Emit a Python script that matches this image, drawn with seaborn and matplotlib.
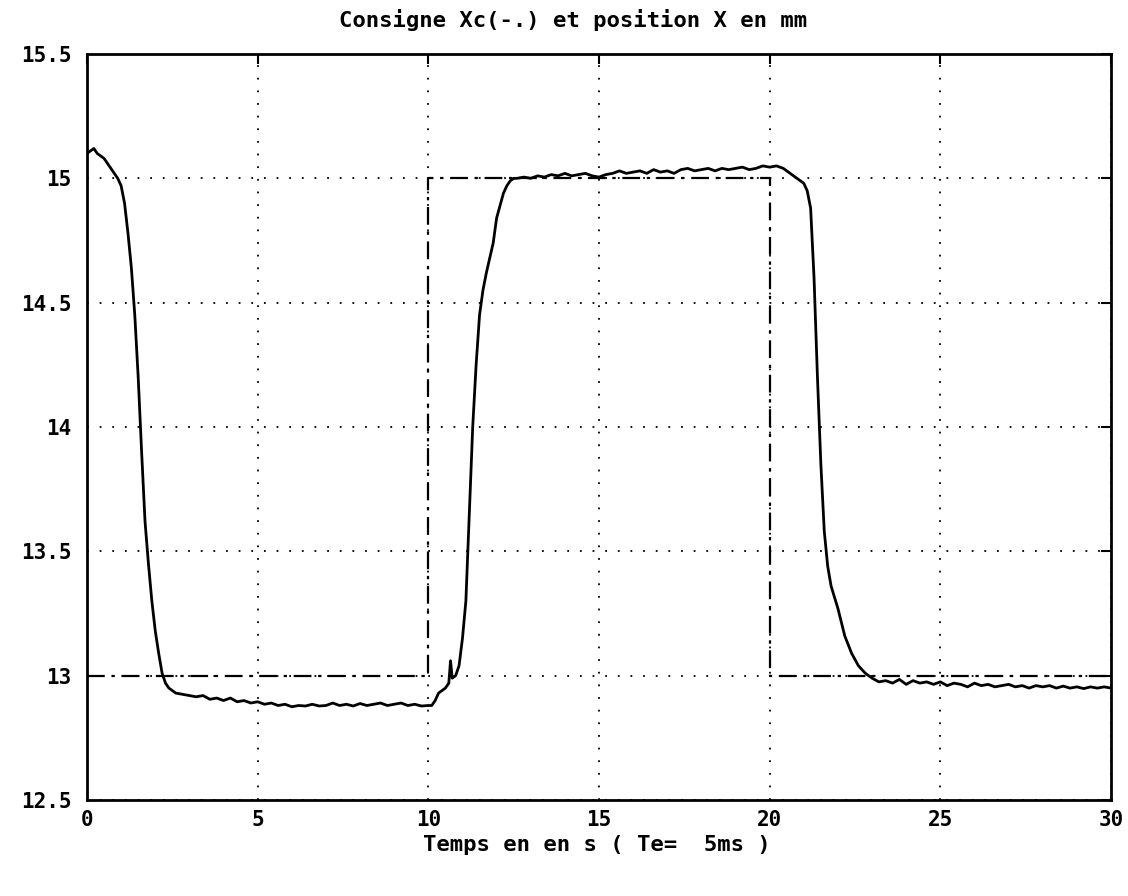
import numpy as np
import pandas as pd
import matplotlib
matplotlib.use("Agg")
import matplotlib.pyplot as plt
import seaborn as sns

# consigne Xc (step setpoint)
t_consigne = [0, 10, 10, 20, 20, 30]
x_consigne = [13, 13, 15, 15, 13, 13]

t_pos = [0.0, 0.1, 0.2, 0.3, 0.4, 0.5, 0.6, 0.7, 0.8, 0.9, 1.0, 1.1, 1.2, 1.3, 1.4,
         1.5, 1.6, 1.7, 1.8, 1.9, 2.0, 2.1, 2.2, 2.3, 2.4,
         2.6, 2.8, 3.0, 3.2, 3.4, 3.6, 3.8, 4.0, 4.2, 4.4, 4.6, 4.8, 5.0, 5.2, 5.4,
         5.6, 5.8, 6.0, 6.2, 6.4, 6.6, 6.8, 7.0, 7.2, 7.4, 7.6, 7.8, 8.0, 8.2, 8.4,
         8.6, 8.8, 9.0, 9.2, 9.4, 9.6, 9.8, 10.0,
         10.1, 10.2, 10.3, 10.4, 10.5, 10.6, 10.65, 10.7, 10.8, 10.9, 11.0, 11.1,
         11.2, 11.3, 11.4, 11.5, 11.6, 11.7, 11.8, 11.9, 12.0, 12.1, 12.2, 12.3,
         12.4, 12.5,
         12.6, 12.8, 13.0, 13.2, 13.4, 13.6, 13.8, 14.0, 14.2, 14.4, 14.6, 14.8,
         15.0, 15.2, 15.4, 15.6, 15.8, 16.0, 16.2, 16.4, 16.6, 16.8, 17.0, 17.2,
         17.4, 17.6, 17.8, 18.0, 18.2, 18.4, 18.6, 18.8, 19.0, 19.2, 19.4, 19.6,
         19.8, 20.0, 20.2, 20.4, 20.6, 20.8, 21.0,
         21.1, 21.2, 21.3, 21.4, 21.5, 21.6, 21.7, 21.8, 22.0, 22.2, 22.4, 22.6,
         22.8, 23.0, 23.2,
         23.4, 23.6, 23.8, 24.0, 24.2, 24.4, 24.6, 24.8, 25.0, 25.2, 25.4, 25.6,
         25.8, 26.0, 26.2, 26.4, 26.6, 26.8, 27.0, 27.2, 27.4, 27.6, 27.8, 28.0,
         28.2, 28.4, 28.6, 28.8, 29.0, 29.2, 29.4, 29.6, 29.8, 30.0]
x_pos = [15.10, 15.11, 15.12, 15.10, 15.09, 15.08, 15.06, 15.04, 15.02, 15.00,
         14.97, 14.90, 14.78, 14.64, 14.45,
         14.20, 13.90, 13.62, 13.45, 13.30, 13.18, 13.09, 13.01, 12.97, 12.95,
         12.93, 12.925, 12.92, 12.915, 12.92, 12.905, 12.91, 12.90, 12.91, 12.895,
         12.90, 12.89, 12.895, 12.885, 12.89,
         12.88, 12.885, 12.875, 12.88, 12.878, 12.885, 12.878, 12.88, 12.89, 12.88,
         12.885, 12.878, 12.888, 12.88, 12.885,
         12.89, 12.88, 12.885, 12.89, 12.88, 12.885, 12.878, 12.88,
         12.88, 12.90, 12.93, 12.94, 12.95, 12.97, 13.06, 12.99, 13.00, 13.04,
         13.15, 13.30,
         13.65, 14.00, 14.25, 14.45, 14.55, 14.62, 14.68, 14.74, 14.84, 14.89,
         14.94, 14.97,
         14.99, 15.00,
         15.00, 15.005, 15.00, 15.01, 15.005, 15.015, 15.01, 15.02, 15.01, 15.015,
         15.02, 15.01,
         15.005, 15.015, 15.02, 15.03, 15.02, 15.025, 15.03, 15.02, 15.035, 15.025,
         15.03, 15.02,
         15.035, 15.04, 15.03, 15.035, 15.04, 15.03, 15.04, 15.035, 15.04, 15.045,
         15.035, 15.04,
         15.05, 15.045, 15.05, 15.04, 15.02, 15.00, 14.98,
         14.95, 14.88, 14.60, 14.20, 13.85, 13.58, 13.44, 13.36, 13.27, 13.16,
         13.09, 13.04,
         13.01, 12.99, 12.975,
         12.98, 12.97, 12.985, 12.965, 12.98, 12.97, 12.975, 12.965, 12.975, 12.96,
         12.97, 12.965,
         12.955, 12.97, 12.96, 12.965, 12.955, 12.96, 12.965, 12.955, 12.96, 12.95,
         12.96, 12.955,
         12.96, 12.95, 12.958, 12.95, 12.955, 12.948, 12.955, 12.95, 12.955, 12.95]

df_c = pd.DataFrame({"t": t_consigne, "x": x_consigne})
df_p = pd.DataFrame({"t": t_pos, "x": x_pos})

sns.set_style("white")
plt.rcParams["font.family"] = ["DejaVu Sans Mono", "DejaVu Sans"]
plt.rcParams["font.weight"] = "bold"
plt.rcParams["text.color"] = "black"

fig = plt.figure(figsize=(11.28, 8.96), dpi=100)
ax = fig.add_axes([87 / 1128, 1 - 800 / 896, (1111 - 87) / 1128, (800 - 54) / 896])

sns.lineplot(ax=ax, data=df_c, x="t", y="x", estimator=None, sort=False,
             color="black", linewidth=1.6, linestyle=(0, (8, 3, 1.5, 3)))
sns.lineplot(ax=ax, data=df_p, x="t", y="x", estimator=None, sort=False,
             color="black", linewidth=2.0)

ax.set_xlim(0, 30)
ax.set_ylim(12.5, 15.5)
ax.set_xticks([0, 5, 10, 15, 20, 25, 30])
ax.set_yticks([12.5, 13, 13.5, 14, 14.5, 15, 15.5])
ax.set_yticklabels(["12.5", "13", "13.5", "14", "14.5", "15", "15.5"])
ax.grid(True, color="black", linestyle=(0, (1, 6)), linewidth=1.3)
ax.tick_params(direction="in", length=7, width=1.5, top=True, right=True,
               labelsize=15, colors="black")
ax.tick_params(axis="y", pad=11)
ax.tick_params(axis="x", pad=7)
for s in ax.spines.values():
    s.set_color("black")
    s.set_linewidth(2)

ax.set_xlabel("")
ax.set_ylabel("")
fig.text(573 / 1128, 1 - 20 / 896, "Consigne Xc(-.) et position X en mm",
         ha="center", va="center", fontsize=16, fontweight="bold", color="black")
fig.text(597 / 1128, 1 - 845 / 896, "Temps en en s ( Te=  5ms )",
         ha="center", va="center", fontsize=16, fontweight="bold", color="black")

fig.savefig("out.png", dpi=100, facecolor="white")
